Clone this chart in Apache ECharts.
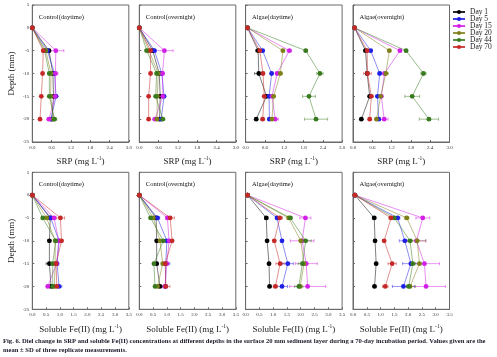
<!DOCTYPE html>
<html>
<head>
<meta charset="utf-8">
<script src="https://cdn.jsdelivr.net/npm/echarts@6/dist/echarts.min.js"></script>
<style>html,body{margin:0;padding:0;background:#fff}#c{width:497px;height:357px}</style>
</head>
<body>
<div id="c"></div>
<script>
// ---------- DATA ----------
const days = ['Day 1', 'Day 5', 'Day 15', 'Day 20', 'Day 44', 'Day 70'];
const depths = [0, -5, -10, -15, -20];
const panelTitles = ['Control(daytime)', 'Control(overnight)', 'Algae(daytime)', 'Algae(overnight)',
                     'Control(daytime)', 'Control(overnight)', 'Algae(daytime)', 'Algae(overnight)'];
const srpTicks = ['0.0', '0.6', '1.2', '1.8', '2.4', '3.0'];
const feTicks = ['0.0', '0.5', '1.0', '1.5', '2.0', '2.5', '3.0', '3.5'];
const depthTicks = ['5', '0', '-5', '-10', '-15', '-20', '-25'];

// rows: Day 1, Day 5, Day 15, Day 20, Day 44, Day 70 ; columns: depth 0,-5,-10,-15,-20
const srpCtrlDay = [
  [0, 0.52, 0.64, 0.66, 0.61],
  [0, 0.47, 0.69, 0.74, 0.58],
  [0, 0.73, 0.72, 0.71, 0.52],
  [0, 0.42, 0.58, 0.57, 0.66],
  [0, 0.38, 0.53, 0.53, 0.69],
  [0, 0.34, 0.32, 0.28, 0.24]
];
const srpCtrlDaySd = [
  [0, 0.05, 0.05, 0.04, 0.05],
  [0, 0.05, 0.04, 0.04, 0.05],
  [0, 0.25, 0.08, 0.05, 0.07],
  [0, 0.05, 0.05, 0.05, 0.05],
  [0, 0.08, 0.05, 0.05, 0.07],
  [0, 0.04, 0.03, 0.03, 0.03]
];
const srpCtrlNight = [
  [0, 0.42, 0.62, 0.65, 0.63],
  [0, 0.47, 0.70, 0.77, 0.68],
  [0, 0.78, 0.72, 0.73, 0.49],
  [0, 0.30, 0.59, 0.56, 0.55],
  [0, 0.23, 0.54, 0.51, 0.73],
  [0, 0.35, 0.35, 0.29, 0.29]
];
const srpCtrlNightSd = [
  [0, 0.05, 0.05, 0.04, 0.05],
  [0, 0.05, 0.04, 0.04, 0.05],
  [0, 0.27, 0.06, 0.05, 0.08],
  [0, 0.05, 0.05, 0.05, 0.05],
  [0, 0.06, 0.05, 0.05, 0.06],
  [0, 0.04, 0.03, 0.03, 0.03]
];
const srpAlgaeDay = [
  [0.06, 0.39, 0.41, 0.65, 0.33],
  [0.06, 0.53, 0.81, 0.73, 0.74],
  [0.06, 1.36, 0.98, 0.82, 0.92],
  [0.06, 1.16, 1.08, 0.87, 0.82],
  [0.06, 1.87, 2.31, 1.97, 2.19],
  [0.06, 0.44, 0.54, 0.58, 0.53]
];
const srpAlgaeDaySd = [
  [0, 0.08, 0.13, 0.05, 0.04],
  [0, 0.05, 0.04, 0.05, 0.05],
  [0, 0.07, 0.05, 0.05, 0.10],
  [0, 0.05, 0.07, 0.06, 0.05],
  [0, 0.05, 0.10, 0.20, 0.36],
  [0, 0.05, 0.05, 0.05, 0.05]
];
const srpAlgaeNight = [
  [0.05, 0.39, 0.44, 0.52, 0.26],
  [0.05, 0.55, 0.83, 0.76, 0.80],
  [0.05, 1.46, 0.98, 0.88, 0.97],
  [0.05, 1.13, 1.02, 0.86, 0.73],
  [0.05, 1.65, 2.19, 1.84, 2.36],
  [0.05, 0.44, 0.45, 0.57, 0.52]
];
const srpAlgaeNightSd = [
  [0, 0.06, 0.05, 0.05, 0.04],
  [0, 0.05, 0.05, 0.05, 0.05],
  [0, 0.05, 0.05, 0.05, 0.12],
  [0, 0.05, 0.08, 0.05, 0.05],
  [0, 0.05, 0.08, 0.23, 0.30],
  [0, 0.05, 0.12, 0.05, 0.05]
];
const feCtrlDay = [
  [0, 0.65, 0.62, 0.62, 0.68],
  [0, 0.67, 0.97, 0.90, 0.97],
  [0, 0.79, 0.96, 0.88, 0.56],
  [0, 0.52, 0.83, 0.83, 0.80],
  [0, 0.38, 0.85, 0.74, 0.74],
  [0, 1.02, 1.06, 0.86, 0.89]
];
const feCtrlDaySd = [
  [0, 0.05, 0.05, 0.12, 0.05],
  [0, 0.05, 0.05, 0.05, 0.10],
  [0, 0.05, 0.05, 0.05, 0.05],
  [0, 0.05, 0.05, 0.05, 0.05],
  [0, 0.05, 0.05, 0.05, 0.05],
  [0, 0.15, 0.05, 0.08, 0.05]
];
const feCtrlNight = [
  [0, 0.61, 0.63, 0.63, 0.75],
  [0, 0.66, 1.00, 0.96, 0.95],
  [0, 1.02, 1.08, 1.00, 0.93],
  [0, 0.51, 0.75, 0.85, 0.66],
  [0, 0.41, 0.87, 0.53, 0.57],
  [0, 1.12, 1.19, 0.94, 0.96]
];
const feCtrlNightSd = [
  [0, 0.05, 0.05, 0.05, 0.10],
  [0, 0.08, 0.05, 0.15, 0.05],
  [0, 0.05, 0.05, 0.05, 0.05],
  [0, 0.05, 0.05, 0.05, 0.05],
  [0, 0.05, 0.05, 0.05, 0.05],
  [0, 0.15, 0.05, 0.05, 0.15]
];
const feAlgaeDay = [
  [0.07, 0.75, 0.78, 0.85, 0.87],
  [0.07, 1.14, 1.32, 1.53, 1.32],
  [0.07, 2.17, 2.05, 2.20, 2.25],
  [0.07, 1.56, 2.00, 2.12, 1.98],
  [0.07, 1.62, 2.18, 2.06, 1.93],
  [0.07, 1.24, 1.04, 1.25, 1.08]
];
const feAlgaeDaySd = [
  [0, 0.06, 0.05, 0.05, 0.05],
  [0, 0.05, 0.05, 0.20, 0.20],
  [0, 0.20, 0.43, 0.40, 0.65],
  [0, 0.05, 0.05, 0.08, 0.05],
  [0, 0.08, 0.20, 0.15, 0.15],
  [0, 0.10, 0.05, 0.15, 0.08]
];
const feAlgaeNight = [
  [0.07, 0.77, 0.80, 0.84, 0.78],
  [0.07, 1.62, 1.88, 2.10, 1.83],
  [0.07, 2.53, 2.30, 2.59, 2.65],
  [0.07, 1.95, 2.33, 2.41, 2.07],
  [0.07, 1.50, 2.07, 2.17, 2.02],
  [0.07, 1.38, 1.13, 1.42, 1.17]
];
const feAlgaeNightSd = [
  [0, 0.06, 0.05, 0.05, 0.05],
  [0, 0.08, 0.20, 0.30, 0.40],
  [0, 0.25, 0.35, 0.55, 0.70],
  [0, 0.08, 0.30, 0.08, 0.20],
  [0, 0.05, 0.08, 0.10, 0.08],
  [0, 0.08, 0.05, 0.15, 0.10]
];

// ---------- STYLE / LAYOUT ----------
const colors = ['#000000', '#1f1fe6', '#d21ee6', '#7f7f1a', '#3a7a1e', '#c62828'];
const FF = "'Liberation Serif', 'DejaVu Serif', serif";
const panels = [
  [srpCtrlDay, srpCtrlDaySd], [srpCtrlNight, srpCtrlNightSd], [srpAlgaeDay, srpAlgaeDaySd], [srpAlgaeNight, srpAlgaeNightSd],
  [feCtrlDay, feCtrlDaySd], [feCtrlNight, feCtrlNightSd], [feAlgaeDay, feAlgaeDaySd], [feAlgaeNight, feAlgaeNightSd]
];
const lefts = [32.3, 139.3, 245.6, 353];
const W = 96.5, H = 137;
const tops = [5, 172.3];

const grids = [], xAxes = [], yAxes = [], series = [], titles = [];
panels.forEach((pd, p) => {
  const row = p < 4 ? 0 : 1, col = p % 4;
  const ticks = row === 0 ? srpTicks : feTicks;
  grids.push({left: lefts[col], top: tops[row], width: W, height: H, show: true,
              borderColor: '#6a6a6a', borderWidth: 1, backgroundColor: 'transparent'});
  xAxes.push({
    gridIndex: p, type: 'value', min: 0, max: +ticks[ticks.length - 1],
    interval: +ticks[1] - +ticks[0],
    axisLine: {onZero: false, lineStyle: {color: '#6a6a6a', width: 1}},
    axisTick: {inside: true, length: 2, lineStyle: {color: '#6a6a6a'}},
    splitLine: {show: false},
    axisLabel: {fontSize: 5, fontFamily: FF, color: '#333', margin: 3,
                formatter: v => v.toFixed(1)},
    name: row === 0 ? 'SRP (mg L{sup|-1})' : 'Soluble Fe(II) (mg L{sup|-1})',
    nameLocation: 'middle', nameGap: 14,
    nameTextStyle: {fontSize: 9, fontFamily: FF, color: '#222',
      rich: {sup: {fontSize: 5.5, fontFamily: FF, color: '#222', padding: [0, 0, 6, 0]}}}
  });
  yAxes.push({
    gridIndex: p, type: 'value', min: +depthTicks[depthTicks.length - 1], max: +depthTicks[0], interval: 5,
    axisLine: {onZero: false, lineStyle: {color: '#6a6a6a', width: 1}},
    axisTick: {inside: true, length: 2, lineStyle: {color: '#6a6a6a'}},
    splitLine: {show: false},
    axisLabel: {show: col === 0, fontSize: 5, fontFamily: FF, color: '#333', margin: 3},
    name: col === 0 ? 'Depth (mm)' : '',
    nameLocation: 'middle', nameGap: 16, nameRotate: 90,
    nameTextStyle: {fontSize: 9, fontFamily: FF, color: '#222'}
  });
  titles.push({text: panelTitles[p], left: lefts[col] + 1.5, top: tops[row] + 3.5,
               textStyle: {fontSize: 6.5, fontWeight: 'normal', fontFamily: FF, color: '#111'}});

  const vals = pd[0], sds = pd[1];
  const errData = [];
  vals.forEach((arr, i) => arr.forEach((v, k) => { if (sds[i][k] > 0) errData.push([v, depths[k], sds[i][k], i]); }));
  series.push({
    type: 'custom', xAxisIndex: p, yAxisIndex: p, z: 1, silent: true,
    encode: {x: 0, y: 1},
    data: errData,
    renderItem: (params, api) => {
      const x = api.value(0), y = api.value(1), sd = api.value(2), c = colors[api.value(3)];
      const a = api.coord([x - sd, y]), b = api.coord([x + sd, y]);
      const h = 1.6;
      const st = {stroke: c, lineWidth: 0.6, opacity: 0.8};
      return {type: 'group', children: [
        {type: 'line', shape: {x1: a[0], y1: a[1], x2: b[0], y2: b[1]}, style: st},
        {type: 'line', shape: {x1: a[0], y1: a[1] - h, x2: a[0], y2: a[1] + h}, style: st},
        {type: 'line', shape: {x1: b[0], y1: b[1] - h, x2: b[0], y2: b[1] + h}, style: st}
      ]};
    }
  });
  vals.forEach((arr, i) => {
    series.push({
      name: days[i], type: 'line', xAxisIndex: p, yAxisIndex: p, z: 2 + i,
      data: arr.map((v, k) => [v, depths[k]]),
      symbol: 'circle', symbolSize: 4.8, showSymbol: true,
      itemStyle: {color: colors[i]},
      lineStyle: {color: colors[i], width: 0.6, opacity: 0.85},
      emphasis: {disabled: true}, animation: false
    });
  });
});

const chart = echarts.init(document.getElementById('c'), null, {renderer: 'canvas', width: 497, height: 357});
chart.setOption({
  backgroundColor: '#ffffff',
  animation: false,
  title: titles,
  grid: grids,
  xAxis: xAxes,
  yAxis: yAxes,
  legend: {
    data: days, orient: 'vertical', left: 451, top: 7, padding: 1,
    itemWidth: 12, itemHeight: 5, itemGap: -1.0,
    textStyle: {fontSize: 7.5, fontFamily: FF, color: '#222', lineHeight: 6.2}
  },
  graphic: [
    {type: 'text', left: 3, top: 338, style: {text: 'Fig. 6. Diel change in SRP and soluble Fe(II) concentrations at different depths in the surface 20 mm sediment layer during a 70-day incubation period. Values given are the',
      font: "bold 6.6px 'Liberation Serif', serif", fill: '#1a1a2a'}},
    {type: 'text', left: 3, top: 347, style: {text: 'mean \u00b1 SD of three replicate measurements.',
      font: "bold 6.6px 'Liberation Serif', serif", fill: '#1a1a2a'}}
  ],
  series: series
});
</script>
</body>
</html>
